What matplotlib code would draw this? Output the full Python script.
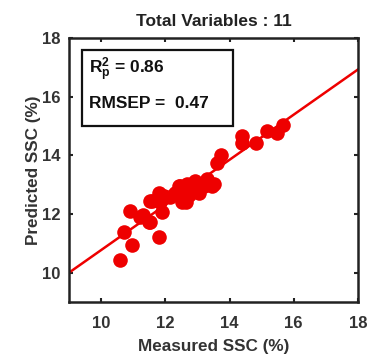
import matplotlib
matplotlib.use("Agg")
import matplotlib.pyplot as plt
import numpy as np
from matplotlib.patches import Rectangle

plt.rcParams['font.family'] = ['Liberation Sans', 'DejaVu Sans']
plt.rcParams['mathtext.fontset'] = 'custom'
plt.rcParams['mathtext.rm'] = 'Liberation Sans:bold'
plt.rcParams['mathtext.it'] = 'Liberation Sans:bold'
plt.rcParams['mathtext.bf'] = 'Liberation Sans:bold'

measured = [10.59, 10.70, 10.96, 10.91, 11.22, 11.32, 11.48, 11.53, 11.79, 11.58,
            11.53, 11.79, 11.84, 11.90, 12.16, 12.31, 12.42, 12.47, 12.52, 12.63,
            12.68, 12.83, 12.94, 13.04, 13.20, 13.30, 13.51, 13.45, 13.62, 13.72,
            14.40, 14.40, 14.81, 15.18, 15.49, 15.65, 12.75, 13.0, 12.58, 11.95]
predicted = [10.42, 11.40, 10.93, 12.11, 11.89, 11.95, 11.72, 11.72, 11.21, 12.45,
             12.45, 12.73, 12.40, 12.06, 12.57, 12.73, 12.96, 12.96, 12.40, 12.40,
             13.02, 12.85, 13.13, 12.73, 12.96, 13.19, 13.02, 12.95, 13.75, 14.03,
             14.65, 14.42, 14.43, 14.82, 14.77, 15.05, 12.65, 12.9, 12.8, 12.6]

fit_slope = 0.77
fit_intercept = 3.07
r2_text = "0.86"
rmsep_text = "0.47"
xticks = [10, 12, 14, 16, 18]
yticks = [10, 12, 14, 16, 18]

fig = plt.figure(figsize=(3.78, 3.56), dpi=100)
ax = fig.add_axes([0.1825, 0.1517, 0.7645, 0.7413])

xl = np.array([9, 18])
ax.plot(xl, fit_slope * xl + fit_intercept, color='#ee0000', lw=1.8, zorder=2)
ax.plot(measured, predicted, 'o', color='#ee0000', markersize=10.5, markeredgewidth=0, zorder=3)

ax.set_xlim(9, 18)
ax.set_ylim(9, 18)
ax.set_xticks(xticks)
ax.set_yticks(yticks)
ax.tick_params(direction='in', length=3, width=1.5, top=True, right=True,
               labelsize=12, colors='#222222')
ax.tick_params(axis='x', pad=10)
ax.tick_params(axis='y', pad=6)
for lbl in ax.get_xticklabels() + ax.get_yticklabels():
    lbl.set_fontweight('bold')
    lbl.set_color('#333333')
for s in ax.spines.values():
    s.set_linewidth(1.8)
    s.set_color('#222222')

ax.set_xlabel('Measured SSC (%)', fontsize=12.3, fontweight='bold', color='#333333', labelpad=6)
ax.set_ylabel('Predicted SSC (%)', fontsize=12.3, fontweight='bold', color='#333333', labelpad=1)
ax.set_title('Total Variables : 11', fontsize=12.5, fontweight='bold', color='#222222', pad=9)

ax.text(9.62, 16.92, r'R$_\mathrm{p}^\mathrm{2}$ = ' + r2_text, fontsize=12.5, fontweight='bold', color='#111111',
        va='center', ha='left', zorder=5)
ax.text(9.62, 15.76, 'RMSEP =  ' + rmsep_text, fontsize=12.5, fontweight='bold', color='#111111',
        va='center', ha='left', zorder=5)
ax.add_patch(Rectangle((9.4, 15.0), 4.7, 2.6, fill=True, facecolor='white',
                       edgecolor='#111111', lw=1.6, zorder=4))

fig.savefig('out.png', dpi=100)
